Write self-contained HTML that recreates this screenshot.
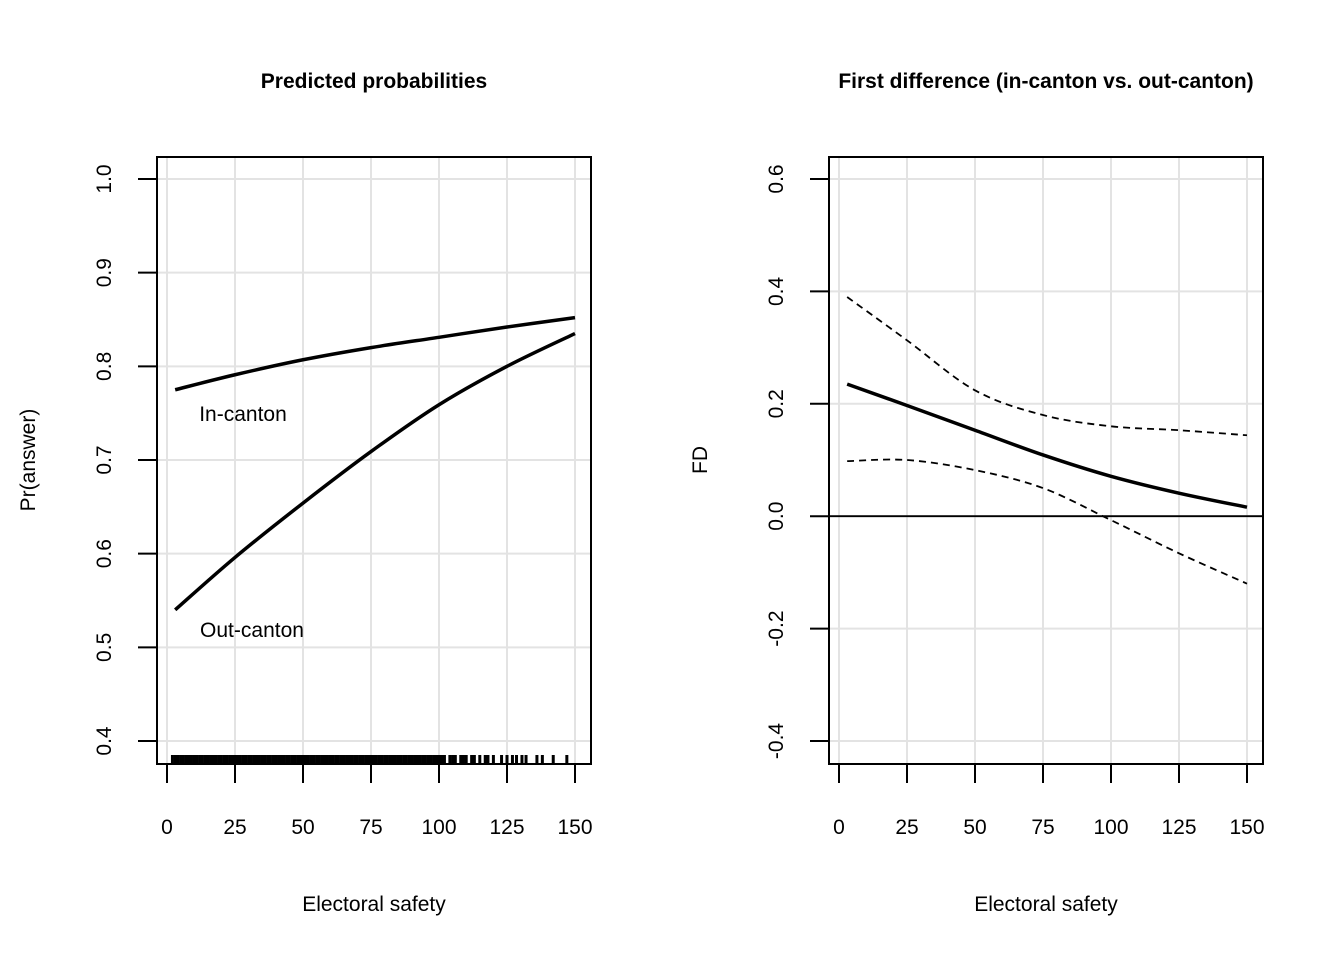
<!DOCTYPE html>
<html><head><meta charset="utf-8"><style>
html,body{margin:0;padding:0;background:#fff}
svg{display:block;font-family:"Liberation Sans",Arial,sans-serif}
</style></head><body>
<svg id="c" width="1344" height="960" viewBox="0 0 1344 960"></svg>
<script>
const xTicks=[0,25,50,75,100,125,150];
const leftYTicks=[0.4,0.5,0.6,0.7,0.8,0.9,1.0];
const leftYLabels=["0.4","0.5","0.6","0.7","0.8","0.9","1.0"];
const rightYTicks=[-0.4,-0.2,0,0.2,0.4,0.6];
const rightYLabels=["-0.4","-0.2","0.0","0.2","0.4","0.6"];
const xs=[3,25,50,75,100,125,150];
const inCanton=[0.775,0.791,0.807,0.820,0.831,0.842,0.852];
const outCanton=[0.54,0.596,0.654,0.709,0.759,0.800,0.835];
const fdMean=[0.235,0.197,0.153,0.109,0.071,0.041,0.016];
const fdUpper=[0.39,0.313,0.224,0.18,0.16,0.153,0.144];
const fdLower=[0.098,0.10,0.082,0.05,-0.007,-0.066,-0.12];
const rug=[2,3,4,5,6,7,8,9,10,11,12,13,14,15,16,17,18,19,20,21,22,23,24,25,26,27,28,29,30,31,32,33,34,35,36,37,38,39,40,41,42,43,44,45,46,47,48,49,50,51,52,53,54,55,56,57,58,59,60,61,62,63,64,65,66,67,68,69,70,71,72,73,74,75,76,77,78,79,80,81,82,83,84,85,86,87,88,89,90,91,92,93,94,95,96,97,98,99,100,101,102,104,105,106,108,109,110,112,113,115,117,118,120,123,125,127,128.5,130.5,132,136,138,142,147];

const NS="http://www.w3.org/2000/svg";
const svg=document.getElementById('c');
function mk(tag,attrs,parent,name){const e=document.createElementNS(NS,tag);for(const k in attrs)e.setAttribute(k,attrs[k]);


(parent||svg).appendChild(e);return e;}
function txt(x,y,s,name,extra){const t=mk('text',Object.assign({x:x,y:y,'text-anchor':'middle','font-size':21,fill:'#000'},extra||{}),svg,name);t.textContent=s;return t;}

function panel(o){
  const g=mk('g',{},svg,o.name);
  const X=v=>o.x0+(v-0)*(o.x1-o.x0)/150;
  const Y=v=>o.yA+(v-o.vA)*(o.yB-o.yA)/(o.vB-o.vA);
  xTicks.forEach(t=>{mk('line',{x1:X(t),x2:X(t),y1:157,y2:764,stroke:'#e3e3e3','stroke-width':2},g,'x-grid-line');});
  o.yt.forEach(t=>{mk('line',{x1:o.bl,x2:o.br,y1:Y(t),y2:Y(t),stroke:'#e3e3e3','stroke-width':2},g,'y-grid-line');});
  mk('rect',{x:o.bl,y:157,width:o.br-o.bl,height:607,fill:'none',stroke:'#000','stroke-width':2},g,'plot-box');
  xTicks.forEach(t=>{mk('line',{x1:X(t),x2:X(t),y1:764,y2:783,stroke:'#000','stroke-width':2},g,'x-tick');
    txt(X(t),834,String(t),'x-tick-label');});
  o.yt.forEach((t,i)=>{mk('line',{x1:o.bl-19,x2:o.bl,y1:Y(t),y2:Y(t),stroke:'#000','stroke-width':2},g,'y-tick');
    txt(o.bl-53,Y(t)+7,o.yl[i],'y-tick-label',{transform:`rotate(-90 ${o.bl-53} ${Y(t)})`,x:o.bl-53,y:Y(t)+7});});
  txt((o.bl+o.br)/2,88,o.title,'panel-title',{'font-weight':'bold'});
  txt((o.bl+o.br)/2,911,'Electoral safety','x-axis-title');
  txt(o.ytx,460,o.ytitle,'y-axis-title',{transform:`rotate(-90 ${o.ytx} 460)`,x:o.ytx,y:467});
  return {X,Y,g};
}
function line(p,vals,name,dash,w){
  const P=xs.map((x,i)=>[p.X(x),p.Y(vals[i])]);
  let d='M'+P[0][0]+' '+P[0][1];
  for(let i=0;i<P.length-1;i++){
    const p0=P[Math.max(0,i-1)],p1=P[i],p2=P[i+1],p3=P[Math.min(P.length-1,i+2)];
    const c1=[p1[0]+(p2[0]-p0[0])/6,p1[1]+(p2[1]-p0[1])/6];
    const c2=[p2[0]-(p3[0]-p1[0])/6,p2[1]-(p3[1]-p1[1])/6];
    d+=` C${c1[0]} ${c1[1]} ${c2[0]} ${c2[1]} ${p2[0]} ${p2[1]}`;
  }
  const a={d:d,fill:'none',stroke:'#000','stroke-width':w||3.5,'stroke-linejoin':'round'};if(dash)a['stroke-dasharray']=dash;
  mk('path',a,p.g,name);}

const L=panel({name:'left-panel',x0:167,x1:575,bl:157,br:591,vA:1.0,yA:179,vB:0.4,yB:741,yt:leftYTicks,yl:leftYLabels,title:'Predicted probabilities',ytitle:'Pr(answer)',ytx:28});
line(L,inCanton,'in-canton-line');
line(L,outCanton,'out-canton-line');
rug.forEach(v=>{mk('line',{x1:L.X(v),x2:L.X(v),y1:755,y2:764,stroke:'#000','stroke-width':3},L.g,'rug-tick');});
txt(243,421,'In-canton','in-canton-label');
txt(252,637,'Out-canton','out-canton-label');

const R=panel({name:'right-panel',x0:839,x1:1247,bl:829,br:1263,vA:0.6,yA:179,vB:-0.4,yB:741,yt:rightYTicks,yl:rightYLabels,title:'First difference (in-canton vs. out-canton)',ytitle:'FD',ytx:700});
mk('line',{x1:829,x2:1263,y1:R.Y(0),y2:R.Y(0),stroke:'#000','stroke-width':1.8},R.g,'zero-line');
line(R,fdMean,'fd-mean-line');
line(R,fdUpper,'fd-upper-ci','7,5',1.8);
line(R,fdLower,'fd-lower-ci','7,5',1.8);
</script>
</body></html>
